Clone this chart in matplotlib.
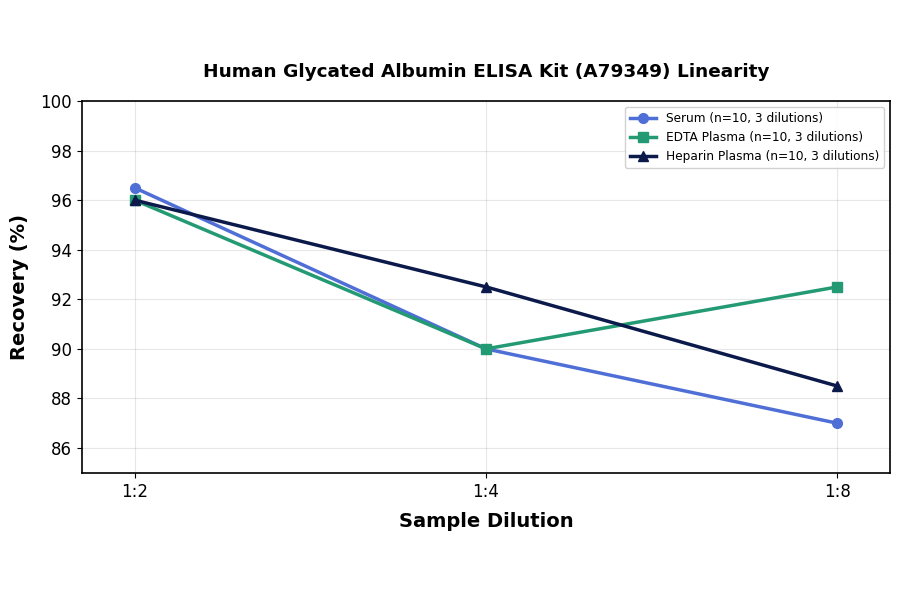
import numpy as np
import matplotlib
matplotlib.use('Agg')
import matplotlib.pyplot as plt

## Data
dilutions= ['1:2','1:4','1:8']
serum= [96.5, 90.0, 87.0]
edta= [96.0, 90.0, 92.5]
heparin= [96.0, 92.5, 88.5]

series_names= ['Serum (n=10, 3 dilutions)','EDTA Plasma (n=10, 3 dilutions)',
               'Heparin Plasma (n=10, 3 dilutions)']

def main():
    fig= plt.figure(figsize=(9,5.94),dpi=100)
    ax= fig.add_axes([0.091,0.204,0.898,0.626])

    xloc= np.arange(len(dilutions))
    colors= ['#4f6fd6','#239a73','#0b1a4a']
    markers= ['o','s','^']
    for vals,name,c,m in zip([serum,edta,heparin],series_names,colors,markers):
        ax.plot(xloc,vals,color=c,marker=m,lw=2.5,ms=7,label=name)

    ax.set_xlim(-0.15,2.15)
    ax.set_ylim(85,100)
    ax.set_xticks(xloc)
    ax.set_xticklabels(dilutions)
    ax.set_yticks(np.arange(86,101,2))
    ax.tick_params(labelsize=12)
    ax.grid(alpha=0.3,lw=0.8)
    for sp in ax.spines.values():
        sp.set_linewidth(1.2)

    ax.set_xlabel('Sample Dilution',fontsize=14,fontweight='bold',labelpad=8)
    ax.set_ylabel('Recovery (%)',fontsize=14,fontweight='bold',labelpad=8)
    ax.set_title('Human Glycated Albumin ELISA Kit (A79349) Linearity',fontsize=13.3,
                 fontweight='bold',pad=17)
    ax.legend(loc='upper right',fontsize=8.7,framealpha=0.9,borderaxespad=0.5,
              handlelength=2.2)

    plt.savefig('out.png',dpi=100)

if __name__=='__main__':
    main()
